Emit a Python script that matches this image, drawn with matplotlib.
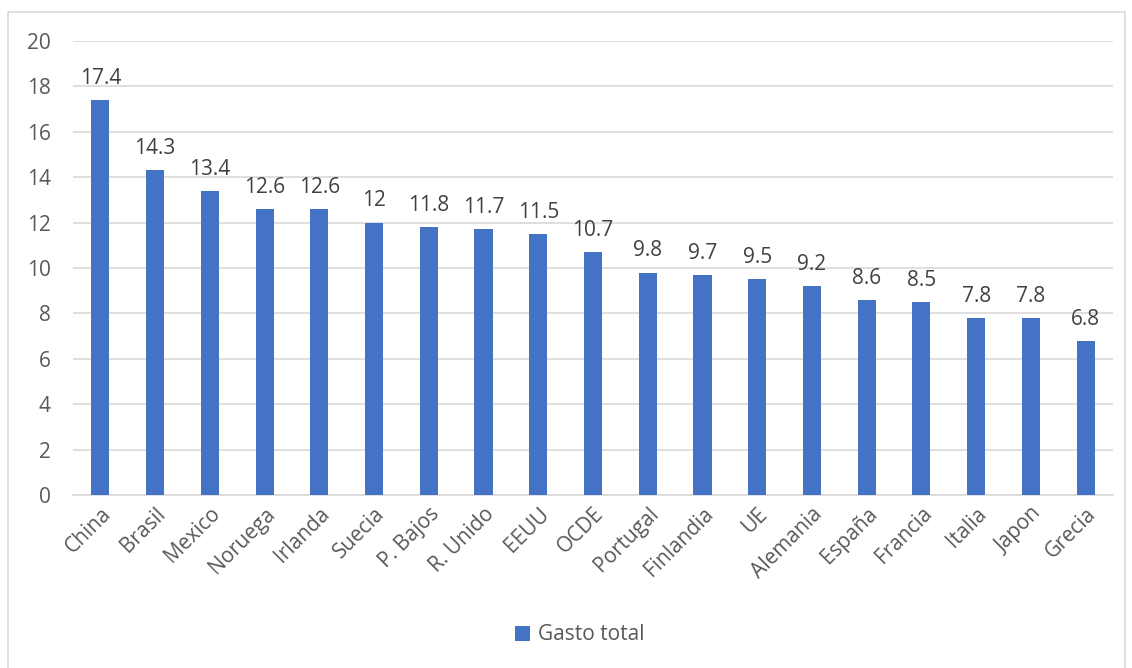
import matplotlib
matplotlib.use("Agg")
import matplotlib.pyplot as plt
from matplotlib.patches import Rectangle

categories = ["China", "Brasil", "Mexico", "Noruega", "Irlanda", "Suecia", "P. Bajos",
              "R. Unido", "EEUU", "OCDE", "Portugal", "Finlandia", "UE", "Alemania",
              "España", "Francia", "Italia", "Japon", "Grecia"]
values = [17.4, 14.3, 13.4, 12.6, 12.6, 12, 11.8, 11.7, 11.5, 10.7, 9.8, 9.7, 9.5, 9.2,
          8.6, 8.5, 7.8, 7.8, 6.8]
value_labels = ["17.4", "14.3", "13.4", "12.6", "12.6", "12", "11.8", "11.7", "11.5", "10.7",
                "9.8", "9.7", "9.5", "9.2", "8.6", "8.5", "7.8", "7.8", "6.8"]
series_name = "Gasto total"
yticks = [0, 2, 4, 6, 8, 10, 12, 14, 16, 18, 20]

plt.rcParams['font.family'] = ['Open Sans', 'DejaVu Sans']
text_color = "#595959"
bar_color = "#4472C4"
fs = 15

fig = plt.figure(figsize=(11.32, 6.68), dpi=100)
fig.patches.append(Rectangle((8/1132, -0.01), (1125-8)/1132, 1 - 12/668 + 0.01,
                             transform=fig.transFigure, fill=False,
                             edgecolor="#D9D9D9", linewidth=1.2))
ax = fig.add_axes([73/1132, 1 - 495/668, (1113-73)/1132, (495-41)/668])

x = list(range(len(categories)))
bars = ax.bar(x, values, width=0.33, color=bar_color, label=series_name, zorder=3)
for xi, v, lab in zip(x, values, value_labels):
    ax.annotate(lab, (xi, v), xytext=(0, 8), textcoords="offset points",
                ha="center", va="bottom", fontsize=fs, color="#404040")

ax.set_xlim(-0.5, len(categories) - 0.5)
ax.set_ylim(0, 20)
ax.set_yticks(yticks)
ax.set_yticklabels([str(t) for t in yticks], fontsize=fs, color=text_color)
ax.set_xticks(x)
ax.set_xticklabels(categories, rotation=45, ha="right", rotation_mode="anchor",
                   fontsize=fs, color=text_color)
ax.tick_params(axis="both", length=0)
ax.tick_params(axis="y", pad=16)
ax.tick_params(axis="x", pad=6)
ax.grid(axis="y", color="#D9D9D9", linewidth=1.2, zorder=0)
for s in ["top", "right", "left"]:
    ax.spines[s].set_visible(False)
ax.spines["bottom"].set_color("#D9D9D9")
ax.spines["bottom"].set_linewidth(1.2)

fig.legend(handles=[bars], labels=[series_name], loc="center",
           bbox_to_anchor=(580/1132, 1 - 635/668), frameon=False, fontsize=fs,
           handlelength=0.7, handleheight=0.7, handletextpad=0.4, labelcolor=text_color)

fig.savefig("out.png", dpi=100)
